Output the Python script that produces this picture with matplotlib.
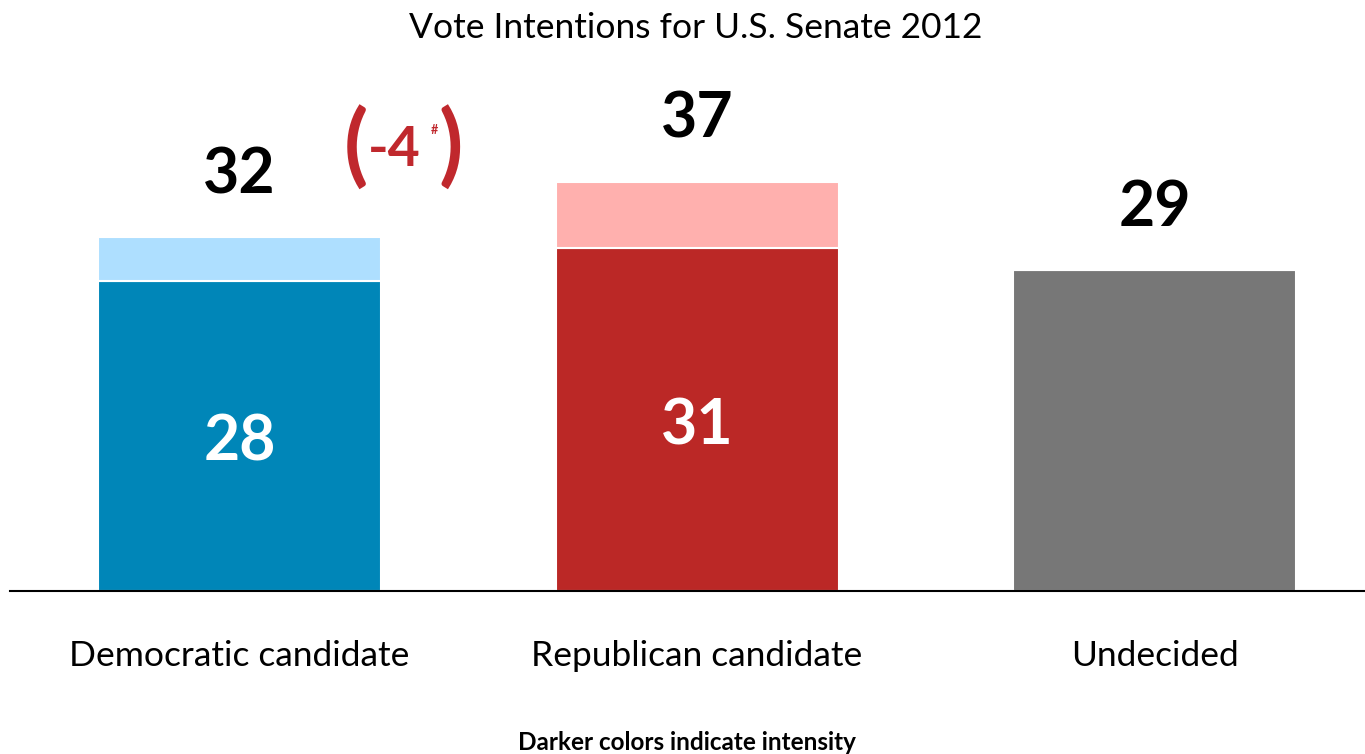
import matplotlib.pyplot as plt
import numpy as np

# data
categories = ["Democratic candidate", "Republican candidate", "Undecided"]
intense = [28, 31, 29]      # darker part
totals = [32, 37, 29]       # full bar
dark_colors = ["#0086b8", "#bb2826", "#777777"]
light_colors = ["#aedfff", "#ffb0ae", "#777777"]
diff_label = "-4"

plt.rcParams['font.family'] = ['Lato', 'DejaVu Sans']

fig = plt.figure(figsize=(13.65, 7.54), dpi=100)
ax = fig.add_axes([10/1365, 163/754, 1355/1365, 531/754])

x = np.arange(len(categories))
w = 0.6186
rest = np.array(totals) - np.array(intense)

ax.bar(x, intense, width=w, color=dark_colors, edgecolor="white", linewidth=1.5)
ax.bar(x, rest, bottom=intense, width=w, color=light_colors, edgecolor="white", linewidth=1.5)

for i in range(len(categories)):
    ax.text(x[i], totals[i] + 5.6, str(totals[i]), ha="center", va="center",
            fontsize=45, fontweight="bold", color="black")
    if rest[i] > 0:
        ax.text(x[i], intense[i] / 2 - 0.6, str(intense[i]), ha="center", va="center",
                fontsize=45, fontweight="bold", color="white")

# gap annotation next to the democratic total
red = "#c0282d"
ax.text(0.255, 40.0, "(", ha="center", va="center", fontsize=64, color=red,
        fontweight="bold")
ax.text(0.462, 40.0, ")", ha="center", va="center", fontsize=64, color=red,
        fontweight="bold")
ax.text(0.338, 39.9, diff_label, ha="center", va="center", fontsize=40,
        fontweight="bold", color=red)
ax.text(0.427, 41.7, "#", ha="center", va="center", fontsize=9,
        fontweight="bold", color=red)

ax.set_xlim(-0.5016, 2.460)
ax.set_ylim(0, 48)
ax.set_xticks(x)
ax.set_xticklabels(categories, fontsize=25.5)
ax.tick_params(axis="x", length=0, pad=35)
ax.set_yticks([])
for s in ["top", "right", "left"]:
    ax.spines[s].set_visible(False)
ax.spines["bottom"].set_linewidth(1.5)

fig.text(696/1365, 1 - 28/754, "Vote Intentions for U.S. Senate 2012", ha="center",
         va="center", fontsize=25.5)
fig.text(687/1365, 1 - 743/754, "Darker colors indicate intensity", ha="center",
         va="center", fontsize=17.5, fontweight="bold")

plt.savefig("out.png", dpi=100)
